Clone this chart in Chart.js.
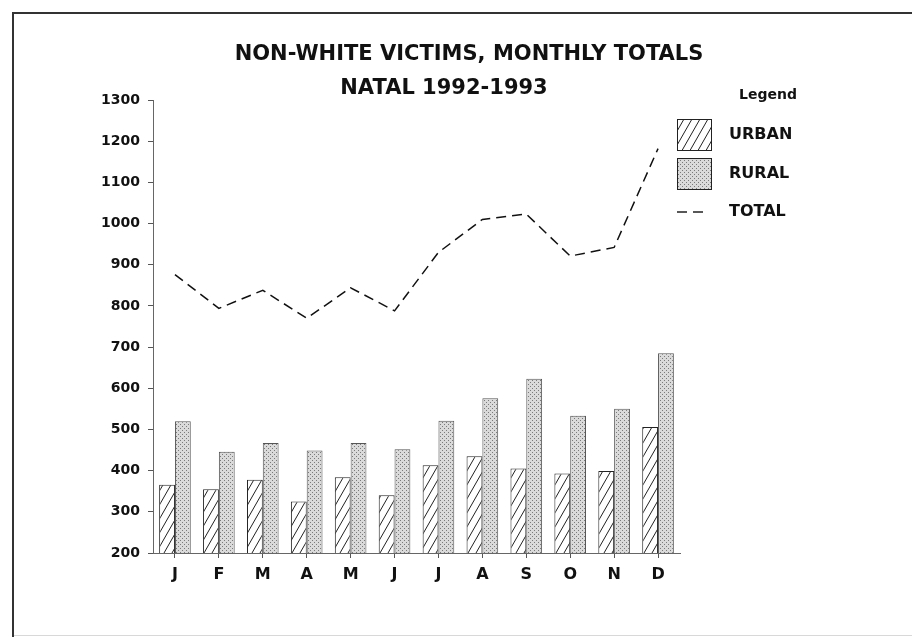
<!DOCTYPE html>
<html>
<head>
<meta charset="utf-8">
<script src="https://cdn.jsdelivr.net/npm/chart.js@4/dist/chart.umd.min.js"></script>
<style>
  body { margin: 0; background: #fff; }
  #wrap { width: 912px; height: 637px; }
</style>
</head>
<body>
<div id="wrap"><canvas id="chart" width="912" height="637"></canvas></div>
<script>
// monthly counts
var months = ['J', 'F', 'M', 'A', 'M', 'J', 'J', 'A', 'S', 'O', 'N', 'D'];
var urban = [366, 355, 378, 325, 384, 340, 413, 435, 405, 393, 399, 506];
var rural = [520, 446, 467, 449, 467, 452, 521, 576, 623, 533, 550, 685];
var total = [876, 794, 838, 770, 844, 788, 930, 1010, 1023, 921, 942, 1182];
var titleLines = ['NON-WHITE VICTIMS, MONTHLY TOTALS', 'NATAL 1992-1993'];
var legendNames = ['URBAN', 'RURAL', 'TOTAL'];
var yMin = 200, yMax = 1300, yStep = 100;

var FONT = '"DejaVu Sans", sans-serif';

// diagonal hatch for the urban bars
function makeHatch() {
    var c = document.createElement('canvas');
    c.width = 8; c.height = 14;
    var g = c.getContext('2d');
    g.fillStyle = '#fff';
    g.fillRect(0, 0, 8, 14);
    g.strokeStyle = '#222';
    g.lineWidth = 1;
    [-8, 0, 8].forEach(function (dx) {
        g.beginPath();
        g.moveTo(dx, 14);
        g.lineTo(dx + 8, 0);
        g.stroke();
    });
    return g.createPattern(c, 'repeat');
}

// grey stipple for the rural bars
function makeDots() {
    var c = document.createElement('canvas');
    c.width = 4; c.height = 4;
    var g = c.getContext('2d');
    g.fillStyle = '#dadada';
    g.fillRect(0, 0, 4, 4);
    g.fillStyle = '#7a7a7a';
    g.fillRect(0, 0, 1, 1);
    g.fillRect(2, 2, 1, 1);
    return g.createPattern(c, 'repeat');
}

var hatch = makeHatch();
var dots = makeDots();

// frame, title and the little legend box
var decor = {
    id: 'decor',
    beforeDraw: function (chart) {
        var ctx = chart.ctx;
        ctx.save();
        ctx.fillStyle = '#fff';
        ctx.fillRect(0, 0, chart.width, chart.height);
        ctx.restore();
    },
    afterDraw: function (chart) {
        var ctx = chart.ctx;
        ctx.save();

        // frame
        ctx.strokeStyle = '#333';
        ctx.lineWidth = 2;
        ctx.beginPath();
        ctx.moveTo(13, 637);
        ctx.lineTo(13, 13);
        ctx.lineTo(912, 13);
        ctx.stroke();
        ctx.strokeStyle = '#d8d8d8';
        ctx.lineWidth = 1;
        ctx.beginPath();
        ctx.moveTo(14, 635.5);
        ctx.lineTo(912, 635.5);
        ctx.stroke();

        // title
        ctx.fillStyle = '#111';
        ctx.textAlign = 'center';
        ctx.textBaseline = 'middle';
        ctx.font = 'bold 21px ' + FONT;
        ctx.fillText(titleLines[0], 469, 55);
        ctx.fillText(titleLines[1], 444, 89);

        // legend
        ctx.textAlign = 'left';
        ctx.font = 'bold 14px ' + FONT;
        ctx.fillText('Legend', 739, 95);

        ctx.lineWidth = 1;
        ctx.strokeStyle = '#222';
        ctx.fillStyle = hatch;
        ctx.fillRect(677.5, 119.5, 34, 31);
        ctx.strokeRect(677.5, 119.5, 34, 31);
        ctx.fillStyle = dots;
        ctx.fillRect(677.5, 158.5, 34, 31);
        ctx.strokeRect(677.5, 158.5, 34, 31);

        ctx.setLineDash([10, 6]);
        ctx.lineWidth = 1.5;
        ctx.beginPath();
        ctx.moveTo(677, 212);
        ctx.lineTo(709, 212);
        ctx.stroke();
        ctx.setLineDash([]);

        ctx.fillStyle = '#111';
        ctx.font = 'bold 16px ' + FONT;
        ctx.fillText(legendNames[0], 729, 135);
        ctx.fillText(legendNames[1], 729, 174);
        ctx.fillText(legendNames[2], 729, 212);

        ctx.restore();
    }
};

new Chart(document.getElementById('chart'), {
    type: 'bar',
    data: {
        labels: months,
        datasets: [
            {
                type: 'line',
                label: legendNames[2],
                data: total,
                borderColor: '#111',
                borderWidth: 1.5,
                borderDash: [10, 6],
                pointRadius: 0,
                tension: 0,
                fill: false,
                order: 0
            },
            {
                label: legendNames[0],
                data: urban,
                backgroundColor: hatch,
                borderColor: '#222',
                borderWidth: 1,
                categoryPercentage: 0.72,
                barPercentage: 1.0,
                order: 1
            },
            {
                label: legendNames[1],
                data: rural,
                backgroundColor: dots,
                borderColor: '#555',
                borderWidth: 1,
                categoryPercentage: 0.72,
                barPercentage: 1.0,
                order: 1
            }
        ]
    },
    options: {
        responsive: false,
        animation: false,
        layout: { padding: { top: 100, right: 232, bottom: 0, left: 0 } },
        plugins: {
            legend: { display: false },
            title: { display: false },
            tooltip: { enabled: false }
        },
        scales: {
            x: {
                afterFit: function (scale) { scale.height = 84; },
                grid: {
                    drawOnChartArea: false,
                    offset: false,
                    tickLength: 5,
                    color: '#555'
                },
                border: { color: '#666', width: 1 },
                ticks: {
                    padding: 7,
                    color: '#111',
                    font: { family: FONT, size: 16, weight: 'bold' }
                }
            },
            y: {
                min: yMin,
                max: yMax,
                afterFit: function (scale) { scale.width = 153; },
                grid: {
                    drawOnChartArea: false,
                    tickLength: 5,
                    color: '#555'
                },
                border: { color: '#666', width: 1 },
                ticks: {
                    stepSize: yStep,
                    padding: 8,
                    color: '#111',
                    font: { family: FONT, size: 14, weight: 'bold' },
                    callback: function (v) { return String(v); }
                }
            }
        }
    },
    plugins: [decor]
});
</script>
</body>
</html>
